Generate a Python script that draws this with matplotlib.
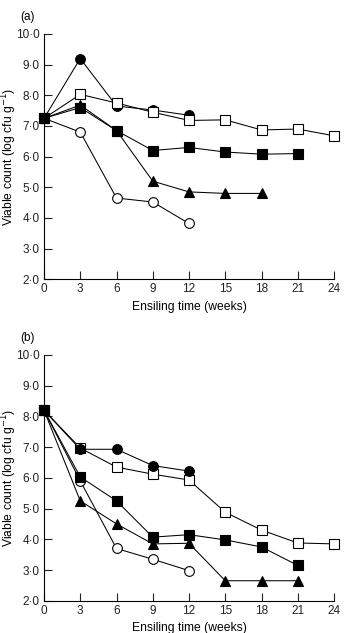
import matplotlib
matplotlib.use("Agg")
import matplotlib.pyplot as plt
from matplotlib.ticker import FuncFormatter

plt.rcParams["font.family"] = ["Liberation Sans", "DejaVu Sans"]
plt.rcParams["font.size"] = 8.5

weeks = [0, 3, 6, 9, 12, 15, 18, 21, 24]

# panel (a)
a_open_sq = [7.25, 8.03, 7.75, 7.45, 7.18, 7.2, 6.87, 6.9, 6.68]
a_fill_circ = [7.25, 9.2, 7.65, 7.52, 7.35]
a_fill_tri = [7.25, 7.68, 6.85, 5.2, 4.85, 4.8, 4.8]
a_fill_sq = [7.25, 7.6, 6.85, 6.2, 6.3, 6.15, 6.08, 6.1]
a_open_circ = [7.25, 6.8, 4.65, 4.52, 3.82]

# panel (b)
b_open_sq = [8.2, 6.97, 6.35, 6.12, 5.93, 4.88, 4.3, 3.88, 3.85]
b_fill_circ = [8.2, 6.93, 6.93, 6.4, 6.22]
b_fill_tri = [8.2, 5.25, 4.5, 3.85, 3.87, 2.65, 2.65, 2.65]
b_fill_sq = [8.2, 6.03, 5.25, 4.07, 4.15, 3.98, 3.75, 3.15]
b_open_circ = [8.2, 5.9, 3.7, 3.35, 2.98]

STYLES = {
    "open_sq": dict(marker="s", mfc="white", ms=6.5),
    "fill_circ": dict(marker="o", mfc="black", ms=7),
    "fill_tri": dict(marker="^", mfc="black", ms=7),
    "fill_sq": dict(marker="s", mfc="black", ms=6.5),
    "open_circ": dict(marker="o", mfc="white", ms=7),
}


def dot_fmt(v, pos):
    return f"{v:.1f}".replace(".", "\u00b7")


def draw_panel(ax, series, label):
    for z, (key, vals) in enumerate(series):
        ax.plot(weeks[:len(vals)], vals, color="black", lw=0.75, mec="black",
                mew=0.8, zorder=3 + z, clip_on=False, **STYLES[key])
    ax.set_xlim(0, 24)
    ax.set_ylim(2, 10)
    ax.set_xticks(range(0, 25, 3))
    ax.set_yticks(range(2, 11))
    ax.yaxis.set_major_formatter(FuncFormatter(dot_fmt))
    ax.spines["top"].set_visible(False)
    ax.spines["right"].set_visible(False)
    ax.spines["left"].set_linewidth(0.8)
    ax.spines["bottom"].set_linewidth(0.8)
    ax.tick_params(direction="in", length=5.5, width=0.8, labelsize=8.5,
                   pad=3, colors="#222222")
    ax.set_xlabel("Ensiling time (weeks)", fontsize=8.7)
    ax.set_ylabel("Viable count (log cfu g$^{-1}$)", fontsize=8.7,
                  va="center")
    ax.xaxis.set_label_coords(0.5, -0.088)
    ax.yaxis.set_label_coords(-0.121, 0.5)
    ax.text(-0.083, 1.069, label, transform=ax.transAxes, fontsize=8.5,
            ha="left", va="center")


fig = plt.figure(figsize=(3.51, 6.33), dpi=100)
ax_a = fig.add_axes([0.1254, 0.5588, 0.8262, 0.3875])
ax_b = fig.add_axes([0.1254, 0.0510, 0.8262, 0.3882])

draw_panel(ax_a, [("fill_circ", a_fill_circ), ("open_sq", a_open_sq),
                  ("open_circ", a_open_circ), ("fill_tri", a_fill_tri),
                  ("fill_sq", a_fill_sq)], "(a)")
draw_panel(ax_b, [("open_sq", b_open_sq), ("fill_circ", b_fill_circ),
                  ("open_circ", b_open_circ), ("fill_tri", b_fill_tri),
                  ("fill_sq", b_fill_sq)], "(b)")

fig.savefig("out.png", dpi=100)
